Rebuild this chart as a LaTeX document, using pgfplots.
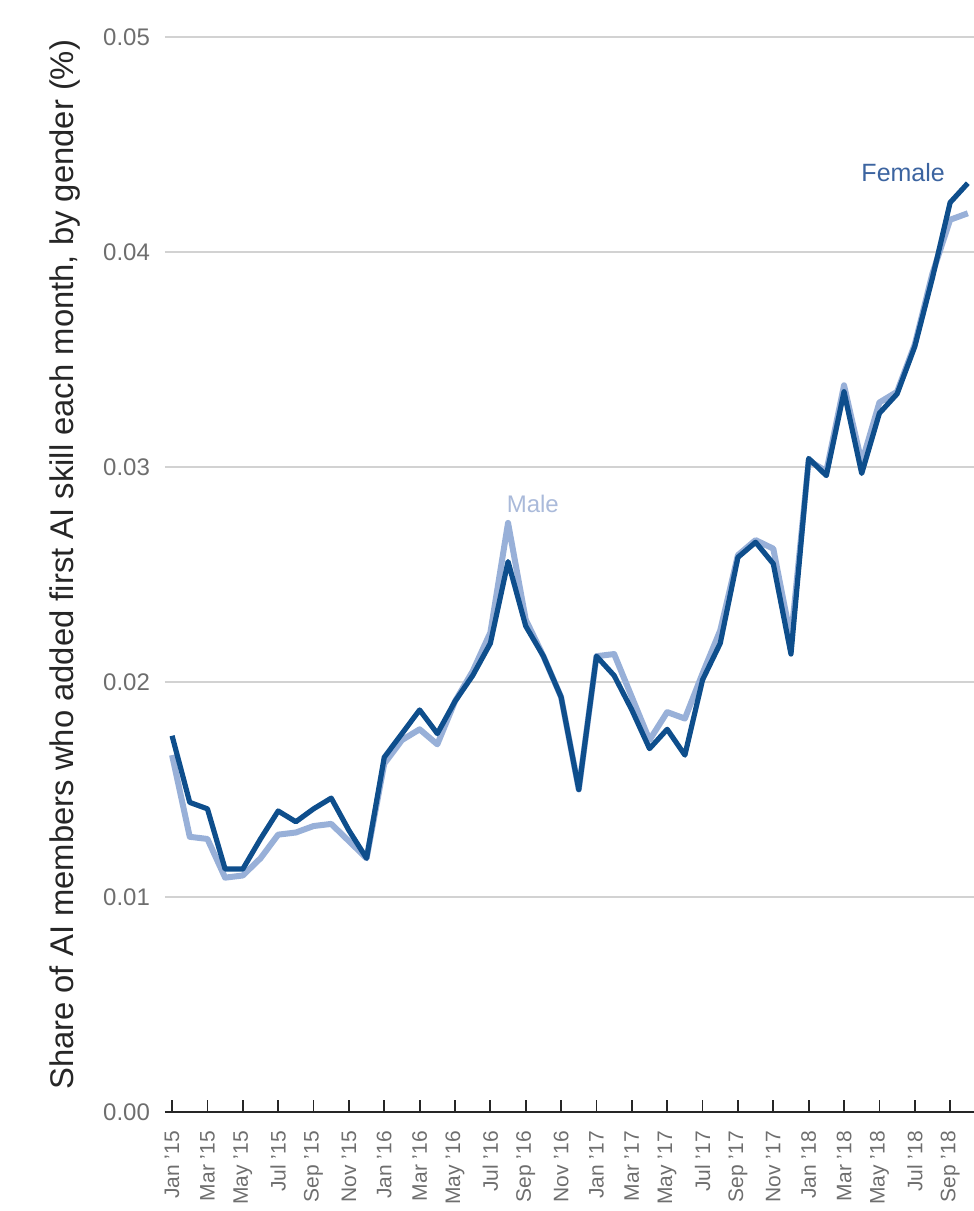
\documentclass[border=0pt]{standalone}
\usepackage{pgfplots}
\pgfplotsset{compat=1.18}
\usepackage{fontspec}
\setmainfont{Liberation Sans}
\definecolor{femc}{RGB}{14,78,140}
\definecolor{malec}{RGB}{152,176,216}
\definecolor{femlab}{RGB}{60,100,160}
\definecolor{malelab}{RGB}{170,186,218}
\definecolor{tickc}{RGB}{110,110,110}
\definecolor{gridc}{RGB}{210,210,210}
\pgfplotstableread{
i female male
0 0.0175 0.0166
1 0.0144 0.0128
2 0.0141 0.0127
3 0.0113 0.0109
4 0.0113 0.0110
5 0.0127 0.0118
6 0.0140 0.0129
7 0.0135 0.0130
8 0.0141 0.0133
9 0.0146 0.0134
10 0.0131 0.0126
11 0.0118 0.0118
12 0.0165 0.0162
13 0.0176 0.0173
14 0.0187 0.0178
15 0.0176 0.0171
16 0.0191 0.0191
17 0.0203 0.0205
18 0.0218 0.0223
19 0.0256 0.0274
20 0.0226 0.0229
21 0.0212 0.0212
22 0.0193 0.0193
23 0.0150 0.0150
24 0.0212 0.0212
25 0.0203 0.0213
26 0.0187 0.0193
27 0.0169 0.0173
28 0.0178 0.0186
29 0.0166 0.0183
30 0.0201 0.0204
31 0.0218 0.0224
32 0.0258 0.0259
33 0.0265 0.0266
34 0.0255 0.0262
35 0.0213 0.0220
36 0.0304 0.0303
37 0.0296 0.0298
38 0.0335 0.0338
39 0.0297 0.0302
40 0.0325 0.0330
41 0.0334 0.0335
42 0.0356 0.0357
43 0.0388 0.0390
44 0.0423 0.0415
45 0.0432 0.0418
}\datatable
\begin{document}
\begin{tikzpicture}
\begin{axis}[
  scale only axis,
  width=404.5pt, height=537.5pt,
  xmin=-0.4, xmax=45.35,
  ymin=0, ymax=0.05,
  clip=false,
  axis x line=bottom,
  axis y line=left,
  x axis line style={-, black!85, line width=1pt},
  y axis line style={draw=none},
  ytick={0,0.01,0.02,0.03,0.04,0.05},
  scaled y ticks=false,
  ymajorgrids,
  grid style={gridc, line width=0.9pt},
  ytick style={draw=none},
  xtick={0,2,...,44},
  xticklabels={Jan '15,Mar '15,May '15,Jul '15,Sep '15,Nov '15,Jan '16,Mar '16,May '16,Jul '16,Sep '16,Nov '16,Jan '17,Mar '17,May '17,Jul '17,Sep '17,Nov '17,Jan '18,Mar '18,May '18,Jul '18,Sep '18},
  tick align=inside,
  xtick style={black!85, line width=0.9pt},
  major tick length=6pt,
  xticklabel style={rotate=90, anchor=east, font=\fontsize{10.5}{12}\selectfont, text=tickc},
  xticklabel shift=6pt,
  yticklabel style={anchor=east, font=\fontsize{12}{14}\selectfont, text=tickc, xshift=-4pt},
  /pgf/number format/assume math mode=true,
  yticklabel={\pgfmathprintnumber[fixed, fixed zerofill, precision=2]{\tick}},
  ylabel={Share of AI members who added first AI skill each month, by gender (\%)},
  ylabel style={at={(axis description cs:-0.1236,0.509)}, anchor=center, font=\fontsize{16.4}{19}\selectfont, text=black!85},
]
\addplot[malec, line width=3pt, line join=round] table[x=i, y=male] {\datatable};
\addplot[femc, line width=2.6pt, line join=round] table[x=i, y=female] {\datatable};
\node[anchor=east, text=femlab, font=\fontsize{12.5}{14}\selectfont] at (axis cs:44.1,0.0437) {Female};
\node[anchor=center, text=malelab, font=\fontsize{12}{14}\selectfont] at (axis cs:20.4,0.0283) {Male};
\end{axis}
\pgfresetboundingbox
\path[use as bounding box] ([xshift=-82.5pt,yshift=-49.5pt]current axis.south west) rectangle ([yshift=18.5pt]current axis.north east);
\end{tikzpicture}
\end{document}
